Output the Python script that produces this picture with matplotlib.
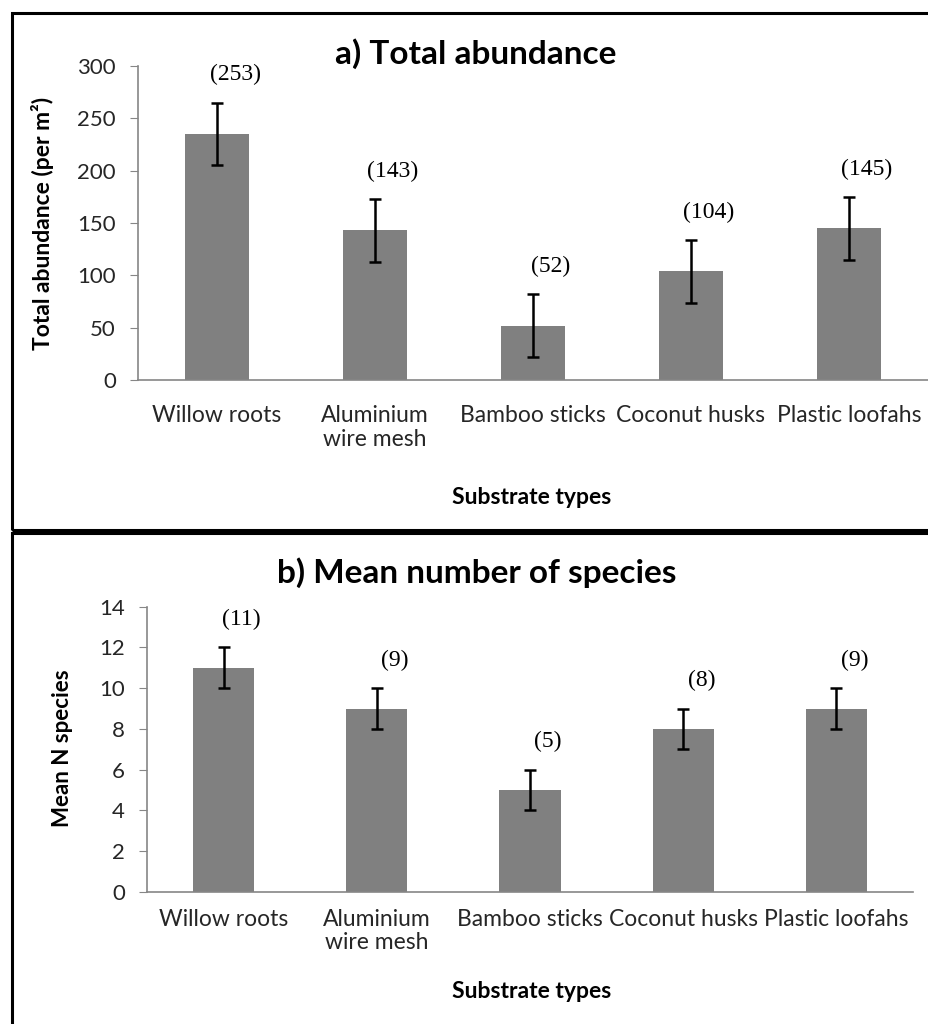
import numpy as np
import matplotlib
matplotlib.use('Agg')
import matplotlib.pyplot as plt
from matplotlib.patches import Rectangle

plt.rcParams['font.family'] = ['Lato', 'DejaVu Sans']

substrates = ['Willow roots', 'Aluminium\nwire mesh', 'Bamboo sticks', 'Coconut husks', 'Plastic loofahs']

# a) total abundance per m2
abund_mean = [235, 143, 52, 104, 145]
abund_err = [30, 30, 30, 30, 30]
abund_text = ['(253)', '(143)', '(52)', '(104)', '(145)']

# b) mean number of species
spec_mean = [11, 9, 5, 8, 9]
spec_err = [1, 1, 1, 1, 1]
spec_text = ['(11)', '(9)', '(5)', '(8)', '(9)']

W, H = 929, 1024
fig = plt.figure(figsize=(W / 100, H / 100), dpi=100)

def px(x0, y0, x1, y1):
    # pixel box -> figure fraction [left, bottom, width, height]
    return [x0 / W, 1 - y1 / H, (x1 - x0) / W, (y1 - y0) / H]

axis_grey = '#868686'

def draw_panel(ax, means, errs, texts, ymax, ystep, tickpad):
    x = np.arange(len(substrates))
    ax.bar(x, means, width=0.4, color='#808080', zorder=2)
    ax.errorbar(x, means, yerr=errs, fmt='none', ecolor='black',
                elinewidth=1.8, capsize=4, capthick=1.8, zorder=3)
    for i in range(len(x)):
        ax.annotate(texts[i], (x[i], means[i] + errs[i]), xytext=(13, 20),
                    textcoords='offset points', ha='center', va='center',
                    fontsize=17, family='Liberation Serif', color='black')
    ax.set_xlim(-0.5, len(x) - 0.5)
    ax.set_ylim(0, ymax)
    ax.set_yticks(np.arange(0, ymax + 1, ystep))
    ax.set_xticks(x)
    ax.set_xticklabels(substrates, fontsize=16.5, color='#262626', linespacing=1.15)
    for s in ['top', 'right']:
        ax.spines[s].set_visible(False)
    for s in ['left', 'bottom']:
        ax.spines[s].set_color(axis_grey)
        ax.spines[s].set_linewidth(1.2)
    ax.tick_params(axis='y', length=6, color=axis_grey, labelsize=16,
                   labelcolor='#262626', pad=10)
    ax.tick_params(axis='x', length=0, pad=tickpad)

ax1 = fig.add_axes(px(138, 66, 928, 380))
draw_panel(ax1, abund_mean, abund_err, abund_text, 300, 50, 18)

ax2 = fig.add_axes(px(147, 606.7, 913, 892))
draw_panel(ax2, spec_mean, spec_err, spec_text, 14, 2, 12)

fig.text(476 / W, 1 - 54 / H, 'a) Total abundance', ha='center', va='center',
         fontsize=24, fontweight='bold')
fig.text(477 / W, 1 - 573 / H, 'b) Mean number of species', ha='center', va='center',
         fontsize=24, fontweight='bold')

fig.text(43 / W, 1 - 223 / H, 'Total abundance (per m²)', rotation=90,
         ha='center', va='center', fontsize=16.5, fontweight='bold')
fig.text(63 / W, 1 - 748 / H, 'Mean N species', rotation=90,
         ha='center', va='center', fontsize=16, fontweight='bold')

fig.text(532 / W, 1 - 497 / H, 'Substrate types', ha='center', va='center',
         fontsize=16.5, fontweight='bold')
fig.text(532 / W, 1 - 992 / H, 'Substrate types', ha='center', va='center',
         fontsize=16.5, fontweight='bold')

# panel frames, running off the right edge
fig.add_artist(Rectangle((12 / W, 1 - 530 / H), 1.0, (530 - 13) / H,
                         transform=fig.transFigure, fill=False,
                         edgecolor='black', linewidth=2.2, clip_on=False))
fig.add_artist(Rectangle((12 / W, -0.1), 1.0, 0.1 + 1 - 533 / H,
                         transform=fig.transFigure, fill=False,
                         edgecolor='black', linewidth=2.2, clip_on=False))

fig.savefig('out.png', dpi=100, facecolor='white')
